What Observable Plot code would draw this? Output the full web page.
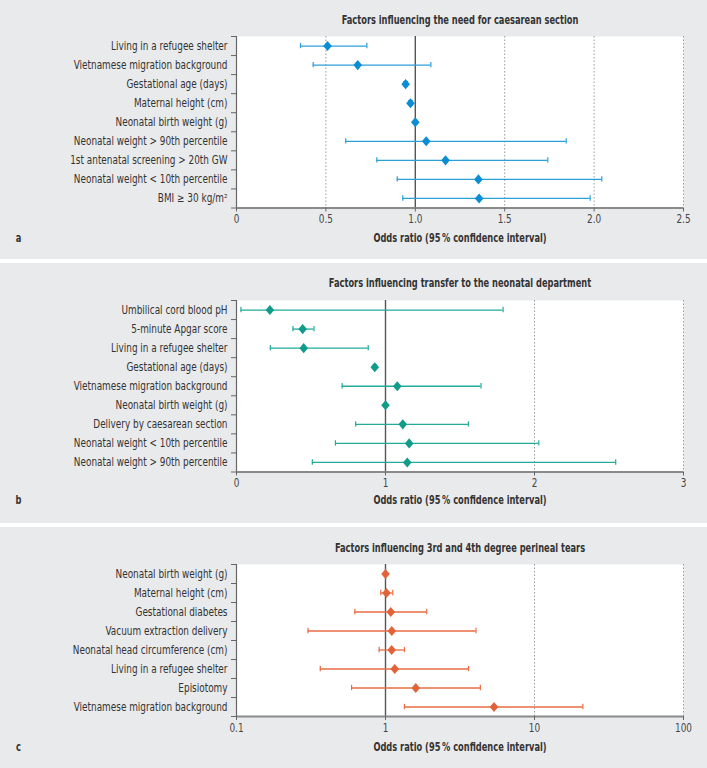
<!DOCTYPE html>
<html><head><meta charset="utf-8">
<script src="https://cdn.jsdelivr.net/npm/d3@7"></script>
<script src="https://cdn.jsdelivr.net/npm/@observablehq/plot@0.6"></script>
<style>
body{margin:0;background:#fff;}
#wrap{width:707px;}
.panel{background:#e9eaec;}
.sep{height:4px;background:#fff;}
svg{display:block;}
</style></head><body><div id="wrap"></div>
<script>
// Panel a
const titleA = "Factors influencing the need for caesarean section";
const labelsA = ["Living in a refugee shelter","Vietnamese migration background","Gestational age (days)","Maternal height (cm)","Neonatal birth weight (g)","Neonatal weight > 90th percentile","1st antenatal screening > 20th GW","Neonatal weight < 10th percentile","BMI ≥ 30 kg/m²"];
const orA = [0.509,0.678,0.946,0.973,1.0,1.061,1.169,1.353,1.357];
const loA = [0.358,0.429,0.936,0.963,0.995,0.611,0.785,0.899,0.930];
const hiA = [0.729,1.087,0.956,0.983,1.005,1.844,1.741,2.043,1.978];
const ticksA = [0,0.5,1,1.5,2,2.5];
const gridA = [0.5,1.5,2,2.5];

// Panel b
const titleB = "Factors influencing transfer to the neonatal department";
const labelsB = ["Umbilical cord blood pH","5-minute Apgar score","Living in a refugee shelter","Gestational age (days)","Vietnamese migration background","Neonatal birth weight (g)","Delivery by caesarean section","Neonatal weight < 10th percentile","Neonatal weight > 90th percentile"];
const orB = [0.224,0.444,0.451,0.928,1.079,1.0,1.116,1.159,1.146];
const loB = [0.030,0.379,0.227,0.918,0.709,0.995,0.800,0.664,0.509];
const hiB = [1.789,0.520,0.884,0.938,1.641,1.005,1.556,2.029,2.545];
const ticksB = [0,1,2,3];
const gridB = [2,3];

// Panel c
const titleC = "Factors influencing 3rd and 4th degree perineal tears";
const labelsC = ["Neonatal birth weight (g)","Maternal height (cm)","Gestational diabetes","Vacuum extraction delivery","Neonatal head circumference (cm)","Living in a refugee shelter","Episiotomy","Vietnamese migration background"];
const orC = [1.0,1.015,1.085,1.102,1.10,1.154,1.596,5.35];
const loC = [0.99,0.930,0.623,0.302,0.907,0.365,0.592,1.34];
const hiC = [1.01,1.119,1.891,4.05,1.34,3.61,4.33,21.1];
const ticksC = [0.1,1,10,100];
const gridC = [10,100];

const axisTitle = "Odds ratio (95\u2009% confidence interval)";
const FONT = "'DejaVu Sans Condensed','DejaVu Sans',sans-serif";

const diamond = {draw(ctx, size){ const h = Math.sqrt(size)*0.62, w = h*0.85; ctx.moveTo(0,-h); ctx.lineTo(w,0); ctx.lineTo(0,h); ctx.lineTo(-w,0); ctx.closePath(); }};

function panel(o){
  const n = o.labels.length;
  const data = o.labels.map((l,i)=>({i, label:l, or:o.or[i], lo:o.lo[i], hi:o.hi[i]}));
  const bounds = d3.range(n+1).map(k=>k-0.5);
  const xmin = o.domain[0];
  const svg = Plot.plot({
    width: 707, height: o.height,
    marginLeft: 236, marginRight: 24, marginTop: o.marginTop, marginBottom: o.marginBottom,
    style: {fontFamily: FONT, fontSize: "11.5px", color: "#333", background: "transparent", overflow: "visible"},
    x: {type: o.type, domain: o.domain},
    y: {domain: [n-0.5, -0.5], axis: null},
    marks: [
      Plot.frame({fill: "white", stroke: null}),
      Plot.ruleX(o.grid, {stroke: "#9a9a9a", strokeDasharray: "1.5,2", strokeWidth: 1}),
      Plot.ruleX([1], {stroke: "#555", strokeWidth: 1.4}),
      Plot.ruleY(data, {y: "i", x1: "lo", x2: "hi", stroke: o.color, strokeWidth: 1.3}),
      Plot.ruleX(data, {x: "lo", y1: d=>d.i-0.14, y2: d=>d.i+0.14, stroke: o.color, strokeWidth: 1.2}),
      Plot.ruleX(data, {x: "hi", y1: d=>d.i-0.14, y2: d=>d.i+0.14, stroke: o.color, strokeWidth: 1.2}),
      Plot.dot(data, {x: "or", y: "i", symbol: diamond, r: 4.6, fill: o.dot, stroke: null}),
      Plot.ruleY([n-0.5], {stroke: "#8a8a8a", strokeWidth: 2}),
      Plot.ruleX([xmin], {stroke: "#666", strokeWidth: 1.2}),
      Plot.axisX({ticks: o.ticks, tickFormat: o.fmt, tickSize: 4, tickPadding: 3, stroke: "#666", fill: "#444", label: null}),
      Plot.axisY({ticks: d3.range(n), tickFormat: i=>o.labels[i], tickSize: 0, tickPadding: 9, fill: "#333", label: null}),
      Plot.axisY({ticks: bounds, tickFormat: ()=>"", tickSize: 5, stroke: "#666", label: null}),
      Plot.text([o.title], {frameAnchor: "top", lineAnchor: "middle", dy: o.titleDy, fontWeight: "bold", fontSize: 11.5, fill: "#333"}),
      Plot.text([axisTitle], {frameAnchor: "bottom", lineAnchor: "middle", dy: o.labDy, fontWeight: "bold", fontSize: 11.5, fill: "#333"}),
      Plot.text([o.letter], {frameAnchor: "bottom-left", lineAnchor: "middle", dx: -218, dy: o.labDy, textAnchor: "middle", fontWeight: "bold", fontSize: 11.5, fill: "#333"})
    ]
  });
  // condense the text horizontally to mimic the condensed typeface of the reference
  svg.querySelectorAll("text").forEach(t => {
    const fw = t.closest("[font-weight]");
    const bold = fw && fw.getAttribute("font-weight") === "bold";
    const k = bold ? 0.8 : 0.86;
    const tr = t.getAttribute("transform") || "";
    t.setAttribute("transform", (tr + ` scale(${k},1)`).trim());
  });
  return svg;
}

const wrap = document.getElementById("wrap");
function add(el, h){ const d = document.createElement("div"); d.className="panel"; d.style.height=h+"px"; d.appendChild(el); wrap.appendChild(d); }
function sep(){ const s=document.createElement("div"); s.className="sep"; wrap.appendChild(s); }

add(panel({labels: labelsA, or: orA, lo: loA, hi: hiA, color: "#2a9fd8", dot: "#0a8dd4", title: titleA, letter: "a", type: "linear", domain: [0,2.5], ticks: ticksA, grid: gridA, fmt: d=>d===0?"0":d.toFixed(1), height: 259, marginTop: 36, marginBottom: 51.5, titleDy: -16, labDy: 30.5}), 259);
sep();
add(panel({labels: labelsB, or: orB, lo: loB, hi: hiB, color: "#22ab9b", dot: "#119c8a", title: titleB, letter: "b", type: "linear", domain: [0,3], ticks: ticksB, grid: gridB, fmt: d=>String(d), height: 260, marginTop: 37, marginBottom: 51.5, titleDy: -16.7, labDy: 28.5}), 260);
sep();
add(panel({labels: labelsC, or: orC, lo: loC, hi: hiC, color: "#e86d44", dot: "#e2633a", title: titleC, letter: "c", type: "log", domain: [0.1,100], ticks: ticksC, grid: gridC, fmt: d=>String(d), height: 241, marginTop: 37, marginBottom: 52, titleDy: -16, labDy: 31.3}), 241);
</script></body></html>
